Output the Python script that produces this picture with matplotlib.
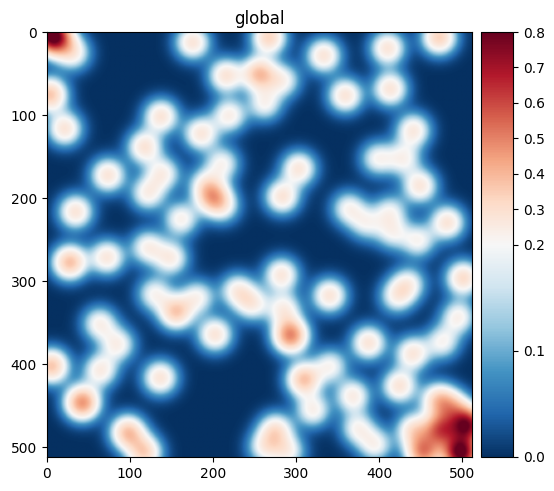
import numpy as np
import matplotlib
matplotlib.use("Agg")
import matplotlib.pyplot as plt
from matplotlib.colors import TwoSlopeNorm

# spots (pixel position and height)
spot_x = [5, 13, 31, 3, 21, 137, 117, 73, 139, 121, 34, 175, 215, 255, 284, 262, 219, 185,
          211, 199, 161, 267, 333, 410, 413, 359, 441, 398, 429, 449, 303, 283, 482, 363,
          384, 413, 416, 447, 472, 27, 72, 121, 149, 129, 181, 155, 229, 247, 202, 63, 85,
          64, 5, 136, 42, 97, 117, 282, 340, 421, 501, 285, 293, 387, 440, 476, 495, 341,
          309, 320, 368, 424, 275, 262, 290, 374, 395, 471, 474, 506, 498, 453, 441, 489,
          190, 212, 435]
spot_y = [3, 10, 25, 75, 116, 101, 138, 172, 170, 194, 216, 12, 52, 50, 58, 86, 100, 122,
          158, 198, 225, 6, 28, 19, 68, 76, 118, 152, 152, 185, 164, 198, 229, 212,
          230, 216, 242, 251, 6, 277, 271, 259, 272, 315, 319, 337, 311, 327, 364, 351, 376,
          407, 402, 416, 446, 482, 506, 292, 317, 318, 296, 333, 365, 374, 387, 373, 343, 402,
          418, 455, 438, 426, 479, 500, 505, 477, 497, 443, 479, 473, 507, 506, 479, 452,
          182, 210, 303]
spot_amp = [0.72, 0.2, 0.22, 0.36, 0.27, 0.27, 0.27, 0.27, 0.22, 0.22, 0.27, 0.27, 0.27, 0.36, 0.2, 0.2, 0.23, 0.26,
            0.2, 0.34, 0.22, 0.32, 0.27, 0.27, 0.27, 0.27, 0.25, 0.2, 0.2, 0.26, 0.26, 0.27, 0.27, 0.2,
            0.17, 0.18, 0.17, 0.2, 0.33, 0.37, 0.26, 0.22, 0.23, 0.2, 0.2, 0.34, 0.22, 0.22, 0.27, 0.22, 0.22,
            0.24, 0.36, 0.27, 0.46, 0.36, 0.32, 0.26, 0.27, 0.2, 0.3, 0.22, 0.48, 0.27, 0.26, 0.2, 0.22, 0.2,
            0.36, 0.22, 0.24, 0.27, 0.26, 0.2, 0.2, 0.2, 0.2, 0.3, 0.5, 0.7, 0.8, 0.46, 0.26, 0.26,
            0.16, 0.16, 0.2]
spot_width = 14.0

cbar_ticks = [0.0, 0.1, 0.2, 0.3, 0.4, 0.5, 0.6, 0.7, 0.8]

yy, xx = np.mgrid[0:512, 0:512]
field = np.zeros((512, 512))
for sx, sy, amp in zip(spot_x, spot_y, spot_amp):
    field += amp * np.exp(-((xx - sx) ** 2 + (yy - sy) ** 2) / (2 * spot_width ** 2))

fig = plt.figure(figsize=(5.54, 4.91), dpi=100)
ax = fig.add_axes([46 / 554, 1 - 457 / 491, 426 / 554, 425 / 491])
cax = fig.add_axes([481 / 554, 1 - 457 / 491, 32 / 554, 425 / 491])

norm = TwoSlopeNorm(vmin=0.0, vcenter=0.2, vmax=0.8)
im = ax.imshow(field, cmap="RdBu_r", norm=norm, interpolation="bilinear")
ax.set_title("global", fontsize=12)
ax.set_xticks([0, 100, 200, 300, 400, 500])
ax.set_yticks([0, 100, 200, 300, 400, 500])

cbar = fig.colorbar(im, cax=cax)
cbar.set_ticks(cbar_ticks)

fig.savefig("out.png", dpi=100)
